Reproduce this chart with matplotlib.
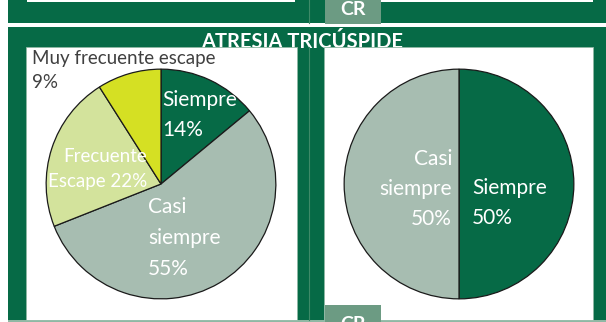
import matplotlib
matplotlib.use('Agg')
import matplotlib.pyplot as plt
from matplotlib.patches import Rectangle

plt.rcParams['font.family'] = ['Lato', 'DejaVu Sans']

# datos de los dos graficos de torta
titulo = 'ATRESIA TRICÚSPIDE'
cat_izq = ['Siempre', 'Casi siempre', 'Frecuente Escape', 'Muy frecuente escape']
val_izq = [14, 55, 22, 9]
cat_der = ['Siempre', 'Casi siempre']
val_der = [50, 50]

VERDE = '#066A46'
GRIS_VERDE = '#A7BDB1'
VERDE_CLARO = '#D3E39C'
AMARILLO = '#D5E023'
CR_COLOR = '#6C9B83'
LINEA = '#8FB8A4'

colores = {'Siempre': VERDE, 'Casi siempre': GRIS_VERDE,
           'Frecuente Escape': VERDE_CLARO, 'Muy frecuente escape': AMARILLO}

W, H = 606, 322
fig = plt.figure(figsize=(W / 100, H / 100), dpi=100)
fig.patch.set_facecolor('white')

# fondo en coordenadas de pixel
bg = fig.add_axes([0, 0, 1, 1])
bg.set_xlim(0, W)
bg.set_ylim(H, 0)
bg.axis('off')


def rect(x0, y0, x1, y1, color, z=1, **kw):
    bg.add_patch(Rectangle((x0, y0), x1 - x0, y1 - y0, facecolor=color,
                           edgecolor=kw.pop('ec', 'none'), zorder=z, **kw))


# banda superior (slide anterior)
rect(8, 0, W, 22.5, VERDE)
rect(27, 0, 295, 1.5, 'white', z=2)
rect(381, 0, 593, 1.5, 'white', z=2)
rect(325, 0, 381, 24, CR_COLOR, z=3)
bg.text(353, 15, 'CR', color='white', fontsize=14, fontweight='bold',
        ha='center', va='baseline', zorder=4)

# banda principal
rect(8, 26.5, W, 320, VERDE)
rect(8, 320, W, 322, LINEA)
bg.plot([309, 309], [0, 22.5], color='#3E8A68', lw=0.8, zorder=2)
bg.plot([309, 309], [47, 320], color='#3E8A68', lw=0.8, zorder=2)
bg.text(302, 48, titulo, color='white', fontsize=14.5, fontweight='bold',
        ha='center', va='baseline', zorder=1.5)
rect(26, 47, 297, 320, 'white', z=2, ec=LINEA, lw=0.6)
rect(324, 47, 593, 320, 'white', z=2, ec=LINEA, lw=0.6)
rect(325, 305, 381, 322, CR_COLOR, z=3)
bg.text(353, 330, 'CR', color='white', fontsize=14, fontweight='bold',
        ha='center', va='baseline', zorder=4, clip_on=True)

R = 116


def torta(cx, cy, cats, vals):
    ax = fig.add_axes([(cx - R) / W, 1 - (cy + R) / H, 2 * R / W, 2 * R / H])
    ax.pie(vals, colors=[colores[c] for c in cats], startangle=90,
           counterclock=False, radius=1,
           wedgeprops=dict(edgecolor='#1a1a1a', linewidth=0.9))
    ax.set_xlim(-1.01, 1.01)
    ax.set_ylim(-1.01, 1.01)
    ax.axis('off')
    return ax


torta(161, 184, cat_izq, val_izq)
torta(459, 184, cat_der, val_der)

# etiquetas (texto, x, y, alineacion, color, tamano, interlineado)
etiquetas = [
    ('Siempre\n{}%'.format(val_izq[0]), 162, 115, 'left', 'white', 15, 1.6),
    ('Casi\nsiempre\n{}%'.format(val_izq[1]), 148, 238, 'left', 'white', 15, 1.7),
    ('Frecuente\nEscape {}%'.format(val_izq[2]), 147, 169, 'right', 'white', 13.5, 1.6),
    ('Muy frecuente escape\n{}%'.format(val_izq[3]), 32, 70, 'left', '#404040', 13.5, 1.5),
    ('Casi\nsiempre\n{}%'.format(val_der[1]), 452, 189, 'right', 'white', 15, 1.6),
    ('Siempre\n{}%'.format(val_der[0]), 472, 203, 'left', 'white', 15, 1.6),
]
for txt, x, y, al, col, fs, ls in etiquetas:
    fig.text(x, y, txt, transform=bg.transData, ha=al, va='center',
             multialignment=al, color=col, fontsize=fs, linespacing=ls)

fig.savefig('out.png', dpi=100, facecolor=fig.get_facecolor())
